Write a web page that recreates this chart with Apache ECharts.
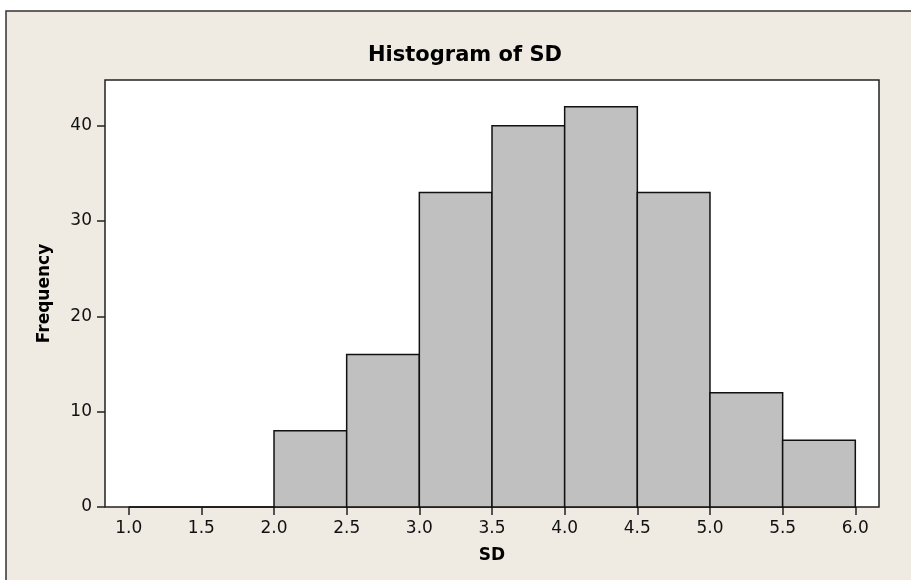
<!DOCTYPE html>
<html>
<head>
<meta charset="utf-8">
<script src="https://cdn.jsdelivr.net/npm/echarts@6/dist/echarts.min.js"></script>
<style>
  html, body { margin: 0; padding: 0; background: #ffffff; }
  #chart { width: 911px; height: 580px; }
</style>
</head>
<body>
<div id="chart"></div>
<script>
// histogram bins (SD) and their frequencies
var binStarts = [1.0, 1.5, 2.0, 2.5, 3.0, 3.5, 4.0, 4.5, 5.0, 5.5];
var binEnds = [1.5, 2.0, 2.5, 3.0, 3.5, 4.0, 4.5, 5.0, 5.5, 6.0];
var counts = [0, 0, 8, 16, 33, 40, 42, 33, 12, 7];

var xTicks = [1.0, 1.5, 2.0, 2.5, 3.0, 3.5, 4.0, 4.5, 5.0, 5.5, 6.0];
var yTicks = [0, 10, 20, 30, 40];

var chart = echarts.init(document.getElementById('chart'));

var bins = binStarts.map(function (s, i) {
    return [s, binEnds[i], counts[i]];
});

var font = 'DejaVu Sans';

chart.setOption({
    animation: false,
    backgroundColor: '#ffffff',
    graphic: [{
        type: 'rect',
        z: -10,
        silent: true,
        shape: {x: 6, y: 11, width: 1000, height: 1000},
        style: {fill: '#efebe2', stroke: '#333333', lineWidth: 1.5}
    }],
    title: {
        text: 'Histogram of SD',
        left: 460,
        textAlign: 'center',
        top: 40,
        textStyle: {fontFamily: font, fontSize: 21, fontWeight: 'bold', color: '#000'}
    },
    grid: {
        left: 105, top: 80, right: 32, bottom: 73,
        show: true,
        backgroundColor: '#ffffff',
        borderColor: '#222222',
        borderWidth: 1.5
    },
    xAxis: {
        type: 'value',
        min: 0.837,
        max: 6.163,
        name: 'SD',
        nameLocation: 'middle',
        nameGap: 40,
        nameTextStyle: {fontFamily: font, fontSize: 17, fontWeight: 'bold', color: '#000'},
        axisLine: {show: false},
        splitLine: {show: false},
        axisTick: {show: true, inside: false, length: 8, customValues: xTicks,
            lineStyle: {color: '#222', width: 1.5}},
        axisLabel: {customValues: xTicks, margin: 13, fontFamily: font, fontSize: 17, color: '#111',
            formatter: function (v) { return v.toFixed(1); }}
    },
    yAxis: {
        type: 'value',
        min: 0,
        max: 44.8,
        name: 'Frequency',
        nameLocation: 'middle',
        nameGap: 52,
        nameRotate: 90,
        nameTextStyle: {fontFamily: font, fontSize: 17, fontWeight: 'bold', color: '#000'},
        axisLine: {show: false},
        splitLine: {show: false},
        axisTick: {show: true, inside: false, length: 8, customValues: yTicks,
            lineStyle: {color: '#222', width: 1.5}},
        axisLabel: {customValues: yTicks, margin: 13, fontFamily: font, fontSize: 17, color: '#111'}
    },
    series: [{
        type: 'custom',
        data: bins,
        encode: {x: [0, 1], y: 2},
        renderItem: function (params, api) {
            var p0 = api.coord([api.value(0), 0]);
            var p1 = api.coord([api.value(1), api.value(2)]);
            return {
                type: 'rect',
                shape: {x: p0[0], y: p1[1], width: p1[0] - p0[0], height: p0[1] - p1[1]},
                style: {fill: '#c0c0c0', stroke: '#111111', lineWidth: 1.5}
            };
        }
    }]
});
</script>
</body>
</html>
